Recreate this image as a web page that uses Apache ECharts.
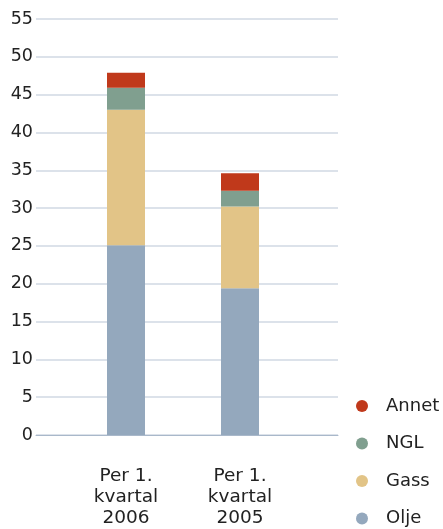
<!DOCTYPE html>
<html>
<head>
<meta charset="utf-8">
<script src="https://cdn.jsdelivr.net/npm/echarts@6/dist/echarts.min.js"></script>
<style>
  html, body { margin: 0; padding: 0; background: #fff; }
  #chart { width: 443px; height: 529px; }
</style>
</head>
<body>
<div id="chart"></div>
<script>
// kategorier og verdier lest av figuren
const categories = ['Per 1.\nkvartal\n2006', 'Per 1.\nkvartal\n2005'];
const olje = [25.1, 19.4];
const gass = [17.9, 10.8];
const ngl = [2.9, 2.1];
const annet = [2.0, 2.3];

const colors = {
  Olje: '#94a8bd',
  Gass: '#e2c487',
  NGL: '#809f8f',
  Annet: '#c0391b'
};

const fontFamily = 'DejaVu Sans, Verdana, sans-serif';

function makeSeries(name, values) {
  return {
    name: name,
    type: 'bar',
    stack: 'total',
    barWidth: 38,
    xAxisIndex: 0,
    yAxisIndex: 0,
    itemStyle: { color: colors[name] },
    data: values
  };
}

let chart = echarts.init(document.getElementById('chart'));
let option = {
  animation: false,
  textStyle: { fontFamily: fontFamily },
  // grid 0: stolpene, grid 1: rutenett og y-akse
  grid: [
    { left: 69, right: 146, top: 19, bottom: 94 },
    { left: 36, right: 105, top: 19, bottom: 94 }
  ],
  legend: {
    orient: 'vertical',
    left: 356,
    top: 397,
    height: 200,
    padding: 0,
    icon: 'circle',
    itemWidth: 12,
    itemHeight: 12,
    itemGap: 19.5,
    data: ['Annet', 'NGL', 'Gass', 'Olje'],
    textStyle: {
      color: '#222',
      fontSize: 18,
      lineHeight: 18,
      padding: [0, 0, 0, 13],
      fontFamily: fontFamily
    }
  },
  xAxis: [
    {
      type: 'category',
      gridIndex: 0,
      data: categories,
      axisLine: { show: false },
      axisTick: { show: false },
      splitLine: { show: false },
      axisLabel: {
        interval: 0,
        color: '#222',
        fontSize: 18.5,
        lineHeight: 21,
        margin: 31,
        fontFamily: fontFamily
      }
    },
    {
      type: 'value',
      gridIndex: 1,
      min: 0,
      max: 1,
      axisLabel: { show: false },
      axisTick: { show: false },
      splitLine: { show: false },
      axisLine: {
        show: true,
        onZero: false,
        lineStyle: { color: '#a9b8ca', width: 1 }
      }
    }
  ],
  yAxis: [
    {
      type: 'value',
      gridIndex: 0,
      min: 0,
      max: 55,
      show: false
    },
    {
      type: 'value',
      gridIndex: 1,
      min: 0,
      max: 55,
      interval: 5,
      axisLine: { show: false },
      axisTick: { show: false },
      splitLine: {
        show: true,
        lineStyle: { color: '#d0d9e3', width: 1.5 }
      },
      axisLabel: {
        color: '#222',
        fontSize: 17.5,
        margin: 3,
        fontFamily: fontFamily
      }
    }
  ],
  series: [
    makeSeries('Olje', olje),
    makeSeries('Gass', gass),
    makeSeries('NGL', ngl),
    makeSeries('Annet', annet)
  ]
};
chart.setOption(option);
</script>
</body>
</html>
